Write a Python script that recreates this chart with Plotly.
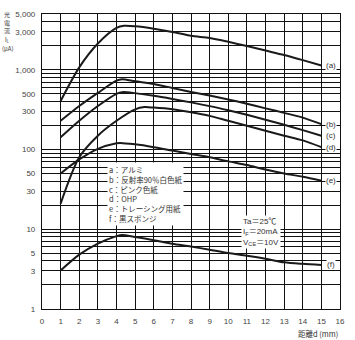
import math
import plotly.graph_objects as go

# ---- data ----
x_a = [1, 2, 3, 4, 4.4, 5, 6, 7, 8, 9, 10, 11, 12, 13, 14, 15]
y_a = [405, 1070, 2130, 3340, 3550, 3500, 3270, 2980, 2660, 2500, 2240, 1980, 1740, 1530, 1320, 1130]

x_b = [1, 2, 3, 4, 4.3, 5, 6, 7, 8, 9, 10, 11, 12, 13, 14, 15]
y_b = [229, 351, 513, 729, 760, 716, 664, 590, 527, 475, 424, 375, 328, 288, 251, 208]

x_c = [1, 2, 3, 4, 4.3, 5, 6, 7, 8, 9, 10, 11, 12, 13, 14, 15]
y_c = [142, 229, 351, 499, 524, 509, 471, 430, 390, 350, 310, 272, 236, 204, 175, 149]

x_d = [1, 2, 3, 4, 5, 5.5, 6, 7, 8, 9, 10, 11, 12, 13, 14, 15]
y_d = [21, 80, 149, 229, 319, 340, 335, 319, 293, 264, 229, 199, 172, 149, 130, 107]

x_e = [1, 2, 3, 4, 4.2, 5, 6, 7, 8, 9, 10, 11, 12, 13, 14, 15]
y_e = [50, 75, 102, 120, 121, 116, 107, 97, 88, 80, 71, 64, 56, 50, 45.5, 40.6]

x_f = [1, 2, 3, 4, 4.3, 5, 6, 7, 8, 9, 10, 11, 12, 13, 14, 15]
y_f = [3.04, 4.8, 6.6, 8.2, 8.5, 8.0, 7.3, 6.6, 6.07, 5.53, 5.03, 4.66, 4.27, 3.85, 3.68, 3.57]

series_names = ["(a)", "(b)", "(c)", "(d)", "(e)", "(f)"]
series_x = [x_a, x_b, x_c, x_d, x_e, x_f]
series_y = [y_a, y_b, y_c, y_d, y_e, y_f]

legend_lines = [
    "a：アルミ",
    "b：反射率90％白色紙",
    "c：ピンク色紙",
    "d：OHP",
    "e：トレーシング用紙",
    "f：黒スポンジ",
]
cond_lines = ["Ta＝25℃", "I<sub>F</sub>＝20mA", "V<sub>CE</sub>＝10V"]
y_title_parts = ["光", "電", "流", "I<sub>L</sub>", "(μA)"]

x_ticks = list(range(0, 17))
y_labeled = {1: "1", 3: "3", 5: "5", 10: "10", 30: "30", 50: "50", 100: "100",
             300: "300", 500: "500", 1000: "1,000", 3000: "3,000", 5000: "5,000"}
y_grid = [k * 10 ** n for n in range(0, 4) for k in range(1, 10) if k * 10 ** n <= 5000]
y_ticktext = [y_labeled.get(v, "") for v in y_grid]

JP = "Noto Sans CJK JP"
TICKFONT = dict(family="Liberation Sans, Arial", size=8, color="#444")

fig = go.Figure()
for xs, ys in zip(series_x, series_y):
    fig.add_trace(go.Scatter(x=xs, y=ys, mode="lines",
                             line=dict(color="#1a1a1a", width=2, shape="spline", smoothing=0.8),
                             showlegend=False, hoverinfo="skip"))

for name, xs, ys in zip(series_names, series_x, series_y):
    fig.add_annotation(x=15.5, y=math.log10(ys[-1]), xref="x", yref="y", text=name,
                       showarrow=False, font=dict(family="Liberation Sans", size=8, color="#333"),
                       bgcolor="white", borderpad=0, xanchor="center", yanchor="middle")

fig.add_annotation(x=0.219, y=0.498, xref="paper", yref="paper",
                   text="<br>".join(legend_lines), showarrow=False, align="left",
                   xanchor="left", yanchor="top", bgcolor="white", borderpad=1,
                   font=dict(family=JP, size=7.5, color="#333"))

fig.add_annotation(x=0.668, y=0.318, xref="paper", yref="paper",
                   text="<br>".join(cond_lines), showarrow=False, align="left",
                   xanchor="left", yanchor="top", bgcolor="white", borderpad=1,
                   font=dict(family="Liberation Sans, " + JP, size=8, color="#333"))

# y axis title (vertical, one piece per line)
title_px = [10, 18.5, 27, 35.5, 45]
for part, py in zip(y_title_parts, title_px):
    fig.add_annotation(x=-0.117, y=(309 - py) / 299, xref="paper", yref="paper",
                       text=part, showarrow=False, xanchor="center", yanchor="middle",
                       borderpad=0, font=dict(family=JP, size=6, color="#333"))
# x axis title
fig.add_annotation(x=1.0, y=-0.084, xref="paper", yref="paper",
                   text="距離d (mm)", showarrow=False, xanchor="right", yanchor="middle",
                   font=dict(family=JP, size=7.5, color="#333"))

fig.update_xaxes(range=[0, 16], tickvals=x_ticks, ticktext=[str(v) for v in x_ticks],
                 showgrid=True, gridcolor="#111", gridwidth=1,
                 showline=True, linecolor="#111", linewidth=1.2, mirror=True,
                 ticks="outside", ticklen=4, tickcolor="rgba(0,0,0,0)",
                 tickfont=TICKFONT, zeroline=False)
fig.update_yaxes(type="log", range=[0, math.log10(5000)], tickvals=y_grid, ticktext=y_ticktext,
                 showgrid=True, gridcolor="#111", gridwidth=1,
                 showline=True, linecolor="#111", linewidth=1.2, mirror=True,
                 ticks="outside", ticklen=4, tickcolor="rgba(0,0,0,0)",
                 tickfont=TICKFONT, zeroline=False)

fig.update_layout(width=355, height=340, margin=dict(l=42, r=14, t=10, b=31),
                  paper_bgcolor="white", plot_bgcolor="white")

fig.write_html("out.html")
